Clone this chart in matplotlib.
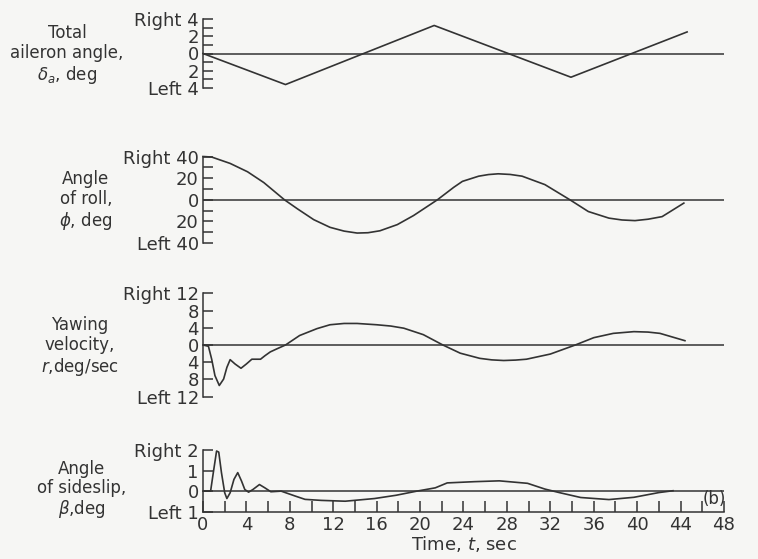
import numpy as np
import matplotlib.pyplot as plt
from matplotlib.ticker import FixedLocator

plt.rcParams.update({'font.size': 12, 'font.family': 'DejaVu Sans',
                     'mathtext.fontset': 'dejavusans'})

ink = '#333333'
paper = '#f6f6f4'

# total aileron angle, deg (right +)
t_ail = [0, 7.6, 21.3, 33.9, 44.6]
ail = [0, -3.6, 3.25, -2.75, 2.5]

# angle of roll, deg
t_roll = [0, 0.8, 2.5, 4.1, 5.6, 7.5, 8.7, 10.2, 11.7, 13.0, 14.2, 15.2, 16.3,
          17.9, 19.4, 21.6, 23.1, 23.9, 25.4, 26.3, 27.2, 28.3, 29.4, 31.5,
          33.8, 35.5, 37.4, 38.6, 39.8, 41.0, 42.3, 44.3]
roll = [40, 39.5, 33.6, 25.9, 15.9, 0, -8.4, -18.4, -25.5, -29, -30.8, -30.5,
        -28.7, -23, -14.6, 0, 11.5, 17, 21.8, 23.3, 24, 23.4, 21.8, 14, 0,
        -10.9, -17, -18.7, -19.3, -18, -15.6, -3.1]

# yawing velocity, deg/sec
t_yaw = [0, 0.5, 0.8, 1.1, 1.5, 1.9, 2.2, 2.5, 2.95, 3.5, 4.0, 4.5, 5.3, 5.7,
         6.2, 6.8, 7.6, 8.9, 10.5, 11.7, 13.0, 14.2, 16.0, 17.3, 18.5, 20.3,
         22.1, 23.7, 25.5, 26.6, 27.7, 28.8, 29.8, 32.0, 34.3, 36.0, 37.8,
         39.7, 41.0, 42.1, 44.4]
yaw = [0, -0.3, -3.3, -7.1, -9.4, -7.9, -5.2, -3.4, -4.4, -5.4, -4.4, -3.3,
       -3.3, -2.5, -1.6, -0.9, 0, 2.2, 3.8, 4.7, 5.0, 5.0, 4.7, 4.4, 3.9, 2.4,
       0, -1.9, -3.1, -3.45, -3.6, -3.5, -3.3, -2.1, 0, 1.7, 2.7, 3.1, 3.0,
       2.7, 1.0]

# angle of sideslip, deg
t_beta = [0, 0.7, 0.95, 1.25, 1.45, 1.7, 2.0, 2.2, 2.5, 2.85, 3.2, 3.55, 3.85,
          4.2, 4.6, 5.2, 5.7, 6.25, 7.2, 8.5, 9.4, 10.9, 13.1, 15.8, 17.8,
          19.7, 21.4, 22.5, 25.0, 27.3, 29.9, 31.5, 32.9, 34.8, 37.4, 39.7,
          42.0, 43.3]
beta = [0, 0, 0.9, 1.95, 1.9, 0.9, -0.08, -0.36, -0.08, 0.57, 0.9, 0.49, 0.08,
        -0.05, 0.08, 0.32, 0.16, -0.03, 0, -0.24, -0.4, -0.45, -0.49, -0.36,
        -0.2, 0, 0.16, 0.4, 0.46, 0.5, 0.38, 0.1, -0.08, -0.31, -0.41, -0.3,
        -0.07, 0.02]

time_ticks = np.arange(0, 49, 4)

panels = [
    dict(t=t_ail, y=ail, ylim=(-4, 4), major=[-4, -2, 0, 2, 4],
         labels=['Left 4', '2', '0', '2', 'Right 4'], minor=[-3, -1, 1, 3],
         title='Total\naileron angle,\n$\\delta_a$, deg',
         rect=[203, 19, 724, 88], tpos=(67, 55)),
    dict(t=t_roll, y=roll, ylim=(-40, 40), major=[-40, -20, 0, 20, 40],
         labels=['Left 40', '20', '0', '20', 'Right 40'], minor=[-30, -10, 10, 30],
         title='Angle\nof roll,\n$\\phi$, deg',
         rect=[203, 156.5, 724, 243], tpos=(86, 201)),
    dict(t=t_yaw, y=yaw, ylim=(-12, 12), major=[-12, -8, -4, 0, 4, 8, 12],
         labels=['Left 12', '8', '4', '0', '4', '8', 'Right 12'], minor=[],
         title='Yawing\nvelocity,\n$r$,deg/sec',
         rect=[203, 293.3, 724, 396.7], tpos=(80, 347)),
    dict(t=t_beta, y=beta, ylim=(-1, 2), major=[-1, 0, 1, 2],
         labels=['Left 1', '0', '1', 'Right 2'], minor=[],
         title='Angle\nof sideslip,\n$\\beta$,deg',
         rect=[203, 450, 724, 511.7], tpos=(82, 490)),
]

W, H = 758, 559
fig = plt.figure(figsize=(W / 100, H / 100), dpi=100, facecolor=paper)

for i, p in enumerate(panels):
    x0, y0, x1, y1 = p['rect']
    ax = fig.add_axes([x0 / W, 1 - y1 / H, (x1 - x0) / W, (y1 - y0) / H])
    ax.set_facecolor('none')
    ax.plot(p['t'], p['y'], color=ink, lw=1.2, clip_on=False)
    ax.axhline(0, color=ink, lw=1.1)
    ax.set_xlim(0, 48)
    ax.set_ylim(*p['ylim'])
    ax.yaxis.set_major_locator(FixedLocator(p['major']))
    ax.set_yticklabels(p['labels'], color=ink, fontsize=13)
    ax.yaxis.set_minor_locator(FixedLocator(p['minor']))
    ax.tick_params(axis='y', which='both', direction='in', length=7, width=1.1,
                   color=ink, pad=3)
    for s in ['top', 'right']:
        ax.spines[s].set_visible(False)
    ax.spines['left'].set_color(ink)
    ax.spines['left'].set_linewidth(1.1)
    if i < 3:
        ax.spines['bottom'].set_visible(False)
        ax.set_xticks([])
    else:
        ax.spines['bottom'].set_color(ink)
        ax.spines['bottom'].set_linewidth(1.1)
        ax.set_xticks(time_ticks)
        ax.set_xticklabels([str(v) for v in time_ticks], color=ink, fontsize=13)
        ax.xaxis.set_minor_locator(FixedLocator(np.arange(2, 48, 4)))
        ax.tick_params(axis='x', which='both', direction='in', length=8,
                       width=1.1, color=ink, pad=3)
        ax.set_xlabel('Time, $t$, sec', color=ink, fontsize=13, labelpad=0)
        ax.text(47.1, -0.4, '(b)', ha='center', va='center', color=ink, fontsize=12)
    fig.text(p['tpos'][0] / W, 1 - p['tpos'][1] / H, p['title'], ha='center',
             va='center', multialignment='center', linespacing=1.1, color=ink)

fig.savefig('out.png', dpi=100, facecolor=paper)
